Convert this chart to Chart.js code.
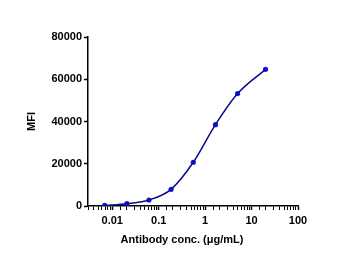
<!DOCTYPE html>
<html>
<head>
<meta charset="utf-8">
<script src="https://cdn.jsdelivr.net/npm/chart.js@4"></script>
<style>
  html, body { margin: 0; padding: 0; background: #fff; }
  #wrap { width: 350px; height: 273px; position: relative; }
</style>
</head>
<body>
<div id="wrap"><canvas id="chart"></canvas></div>
<script>
// data
const concentrations = [0.00686, 0.0206, 0.0617, 0.185, 0.556, 1.67, 5, 20];
const mfiValues = [250, 1100, 2850, 7900, 20700, 38500, 53200, 64700];
const xTickLabels = ['0.01', '0.1', '1', '10', '100'];
const yTicks = [0, 20000, 40000, 60000, 80000];
const xTitle = 'Antibody conc. (μg/mL)';
const yTitle = 'MFI';

const font = { family: 'Liberation Sans, Arial, sans-serif', size: 11, weight: 'bold' };

const points = concentrations.map((c, i) => ({ x: c, y: mfiValues[i] }));

function isDecade(v) {
    const l = Math.log10(v);
    return Math.abs(l - Math.round(l)) < 1e-6;
}

// x title sits a bit left of the axis centre in the original
const xTitlePlugin = {
    id: 'xTitle',
    afterDraw(chart) {
        const ctx = chart.ctx;
        ctx.save();
        ctx.font = 'bold 11px Liberation Sans, Arial, sans-serif';
        ctx.fillStyle = '#000';
        ctx.textAlign = 'center';
        ctx.textBaseline = 'middle';
        ctx.fillText(xTitle, chart.chartArea.left + 94, 240);
        ctx.restore();
    }
};

new Chart(document.getElementById('chart'), {
    type: 'scatter',
    data: {
        datasets: [{
            data: points,
            showLine: true,
            cubicInterpolationMode: 'monotone',
            borderColor: '#0a0a8c',
            borderWidth: 1.5,
            pointRadius: 0,
            pointHoverRadius: 0
        }, {
            data: points,
            showLine: false,
            backgroundColor: '#1414e6',
            borderColor: '#1414e6',
            pointRadius: 2.6,
            pointBorderWidth: 0
        }]
    },
    options: {
        responsive: true,
        maintainAspectRatio: false,
        animation: false,
        layout: { padding: { left: 0, right: 52, top: 37, bottom: 0 } },
        plugins: {
            legend: { display: false },
            tooltip: { enabled: false }
        },
        scales: {
            x: {
                type: 'logarithmic',
                min: 0.003,
                max: 100,
                afterFit(scale) { scale.height = 67; },
                border: { color: '#000', width: 1.5 },
                grid: {
                    drawOnChartArea: false,
                    tickLength: 4,
                    tickColor: '#000',
                    tickWidth: ctx => (ctx.tick && isDecade(ctx.tick.value)) ? 1.5 : 1
                },
                ticks: {
                    autoSkip: false,
                    maxRotation: 0,
                    padding: 4,
                    color: '#000',
                    font: font,
                    callback(value) {
                        if (!isDecade(value)) return '';
                        const idx = Math.round(Math.log10(value)) + 2;
                        return xTickLabels[idx] || '';
                    }
                }
            },
            y: {
                min: 0,
                max: 80000,
                afterFit(scale) { scale.width = 88; },
                afterBuildTicks(scale) { scale.ticks = yTicks.map(v => ({ value: v })); },
                border: { color: '#000', width: 1.5 },
                grid: {
                    drawOnChartArea: false,
                    tickLength: 4,
                    tickColor: '#000',
                    tickWidth: 1.5
                },
                ticks: {
                    padding: 2,
                    color: '#000',
                    font: font,
                    callback: v => String(v)
                },
                title: {
                    display: true,
                    text: yTitle,
                    color: '#000',
                    font: font,
                    padding: { top: 25, bottom: 0 }
                }
            }
        }
    },
    plugins: [xTitlePlugin]
});
</script>
</body>
</html>
